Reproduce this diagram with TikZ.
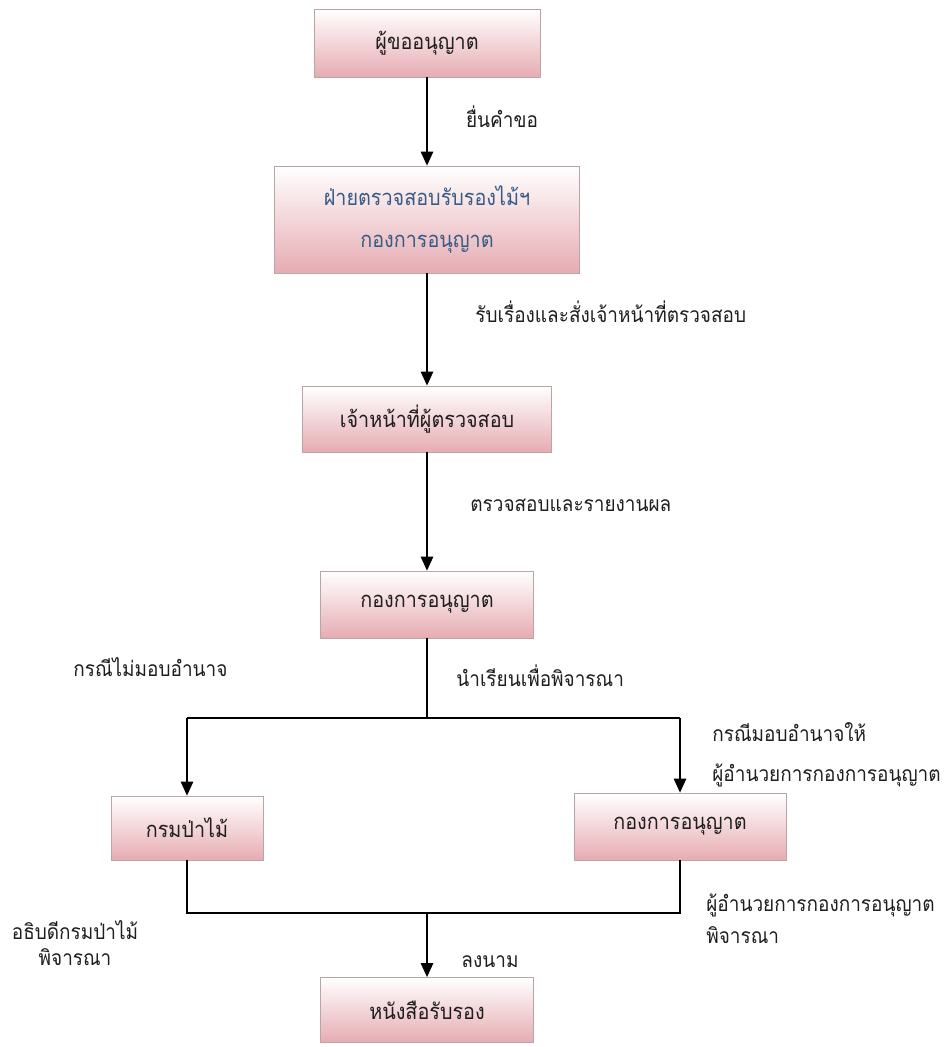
\documentclass[tikz,border=0pt]{standalone}
\usepackage{fontspec}
\newfontfamily\thaifont[Script=Thai,FakeStretch=0.9]{Loma}
\usepackage{tikz}
\usetikzlibrary{arrows.meta, positioning}

\definecolor{boxpink}{RGB}{230,172,178}
\definecolor{boxedge}{RGB}{185,165,165}
\definecolor{boxblue}{RGB}{55,90,135}
\definecolor{inkgray}{RGB}{30,30,30}

\begin{document}
\begin{tikzpicture}[x=0.02cm, y=-0.02cm,
  box/.style={draw=boxedge, top color=white, bottom color=boxpink, inner sep=2pt,
              align=center, text=inkgray, font=\thaifont\fontsize{12.5}{14}\selectfont},
  arrow/.style={-{Triangle[length=8pt,width=7pt]}, line width=1.1pt},
  line/.style={line width=1.1pt},
  note/.style={font=\thaifont\fontsize{12}{14}\selectfont, text=inkgray, inner sep=0pt},
]
\useasboundingbox (0,0) rectangle (945,1047);

% Boxes
\node[box, minimum width=4.52cm, minimum height=1.36cm] (applicant)   at (427,43)    {ผู้ขออนุญาต};
\node[box, minimum width=6.1cm,  minimum height=2.14cm, text=boxblue] (inspectunit) at (427,219.5)
     {ฝ่ายตรวจสอบรับรองไม้ฯ\\[10pt]กองการอนุญาต};
\node[box, minimum width=4.98cm, minimum height=1.32cm] (inspector)   at (427,419)   {เจ้าหน้าที่ผู้ตรวจสอบ};
\node[box, minimum width=4.26cm, minimum height=1.34cm] (permitdiv)   at (427,604.5) {กองการอนุญาต};
\node[box, minimum width=3.04cm, minimum height=1.28cm] (forestdept)  at (187,828)   {กรมป่าไม้};
\node[box, minimum width=4.24cm, minimum height=1.34cm] (permitdir)   at (680,826.5) {กองการอนุญาต};
\node[box, minimum width=4.26cm, minimum height=1.3cm]  (certificate) at (427,1010)  {หนังสือรับรอง};

% Junctions
\coordinate (split)  at (427,718);
\coordinate (splitL) at (187,718);
\coordinate (splitR) at (680,718);
\coordinate (join)   at (427,913);
\coordinate (joinL)  at (187,913);
\coordinate (joinR)  at (680,913);

% Arrows
\draw[arrow] (applicant) -- (inspectunit);
\draw[arrow] (inspectunit) -- (inspector);
\draw[arrow] (inspector) -- (permitdiv);
\draw[line]  (permitdiv) -- (split);
\draw[line]  (splitL) -- (splitR);
\draw[arrow] (splitL) -- (forestdept);
\draw[arrow] (splitR) -- (permitdir);
\draw[line]  (forestdept) -- (joinL) -- (joinR) -- (permitdir);
\draw[arrow] (join) -- (certificate);

% Labels
\node[note] (lblsubmit) at (502,117) {ยื่นคำขอ};
\node[note, anchor=west] (lblreceive) at (475,312) {รับเรื่องและสั่งเจ้าหน้าที่ตรวจสอบ};
\node[note, anchor=west] (lblreport) at (470,505) {ตรวจสอบและรายงานผล};
\node[note, anchor=west] (lblnodeleg) at (73,667) {กรณีไม่มอบอำนาจ};
\node[note, anchor=west] (lblpropose) at (456,676) {นำเรียนเพื่อพิจารณา};
\node[note, anchor=west, align=left] (lbldeleg) at (712,755)
     {กรณีมอบอำนาจให้\\[9pt]ผู้อำนวยการกองการอนุญาต};
\node[note, anchor=west, align=left] (lbldirector) at (706,919)
     {ผู้อำนวยการกองการอนุญาต\\[4pt]พิจารณา};
\node[note, align=center] (lbldirgen) at (75,943)
     {อธิบดีกรมป่าไม้\\[1pt]พิจารณา};
\node[note] (lblsign) at (490,962) {ลงนาม};
\end{tikzpicture}
\end{document}
